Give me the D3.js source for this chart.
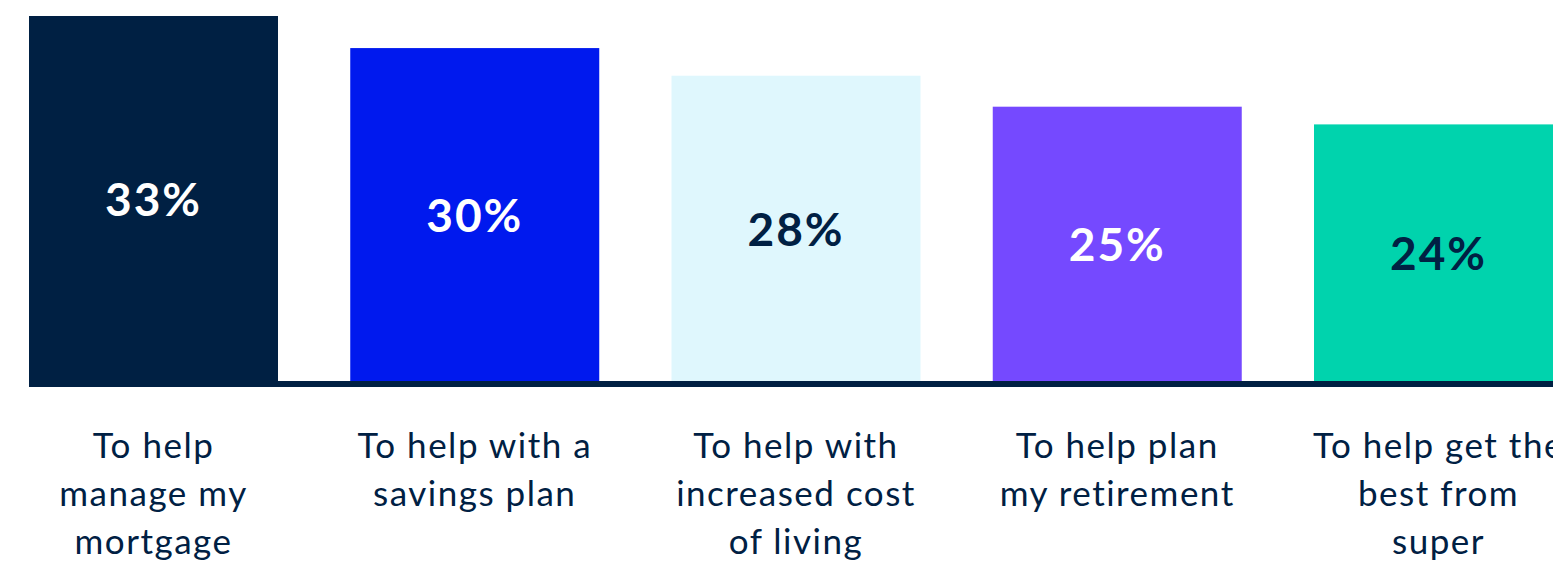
<!DOCTYPE html>
<html>
<head>
<meta charset="utf-8">
<script src="https://cdn.jsdelivr.net/npm/d3@7"></script>
<style>
  html, body { margin: 0; padding: 0; background: #ffffff; overflow: hidden; }
  svg { display: block; }
</style>
</head>
<body>
<svg id="chart" width="1553" height="563"></svg>
<script>
// ---- data ----
const categories = [
  ["To help", "manage my", "mortgage"],
  ["To help with a", "savings plan"],
  ["To help with", "increased cost", "of living"],
  ["To help plan", "my retirement"],
  ["To help get the", "best from", "super"]
];
const values = [33, 30.1, 27.6, 24.8, 23.2];
const valueLabels = ["33%", "30%", "28%", "25%", "24%"];
const barColors = ["#002043", "#0019EE", "#DFF7FD", "#7549FF", "#00D3AD"];
const labelColors = ["#ffffff", "#ffffff", "#002043", "#ffffff", "#002043"];

// ---- layout ----
const svg = d3.select("#chart");
const navy = "#002043";
const baseY = 381;
const keys = categories.map((c, i) => i);

const x = d3.scaleBand()
  .domain(keys)
  .range([29, 1563])
  .paddingInner(0.2249)
  .paddingOuter(0);

const y = d3.scaleLinear()
  .domain([0, 33])
  .range([baseY, 16]);

const fontFamily = "Lato, 'Open Sans', sans-serif";

// bars
svg.append("g").selectAll("rect")
  .data(values)
  .join("rect")
  .attr("x", (d, i) => x(i))
  .attr("y", d => y(d))
  .attr("width", x.bandwidth())
  .attr("height", d => baseY - y(d))
  .attr("fill", (d, i) => barColors[i]);

// baseline axis
svg.append("rect")
  .attr("x", x.range()[0])
  .attr("y", baseY)
  .attr("width", x.range()[1] - x.range()[0])
  .attr("height", 6)
  .attr("fill", navy);

// value labels
const capPct = 0.72;
const pctSize = 46;
svg.append("g").selectAll("text")
  .data(values)
  .join("text")
  .attr("x", (d, i) => x(i) + x.bandwidth() / 2)
  .attr("y", d => (y(d) + baseY) / 2 + pctSize * capPct / 2 + 1)
  .attr("text-anchor", "middle")
  .attr("font-family", fontFamily)
  .attr("font-weight", 700)
  .attr("font-size", pctSize)
  .attr("letter-spacing", 2)
  .attr("fill", (d, i) => labelColors[i])
  .text((d, i) => valueLabels[i]);

// category labels
const catSize = 35;
const catG = svg.append("g");
categories.forEach((lines, i) => {
  const t = catG.append("text")
    .attr("x", x(i) + x.bandwidth() / 2)
    .attr("y", 458)
    .attr("text-anchor", "middle")
    .attr("font-family", fontFamily)
    .attr("font-weight", 400)
    .attr("font-size", catSize)
    .attr("letter-spacing", 1.5)
    .attr("fill", navy);
  lines.forEach((ln, j) => {
    t.append("tspan")
      .attr("x", x(i) + x.bandwidth() / 2)
      .attr("y", 458 + j * 48)
      .text(ln);
  });
});
</script>
</body>
</html>
